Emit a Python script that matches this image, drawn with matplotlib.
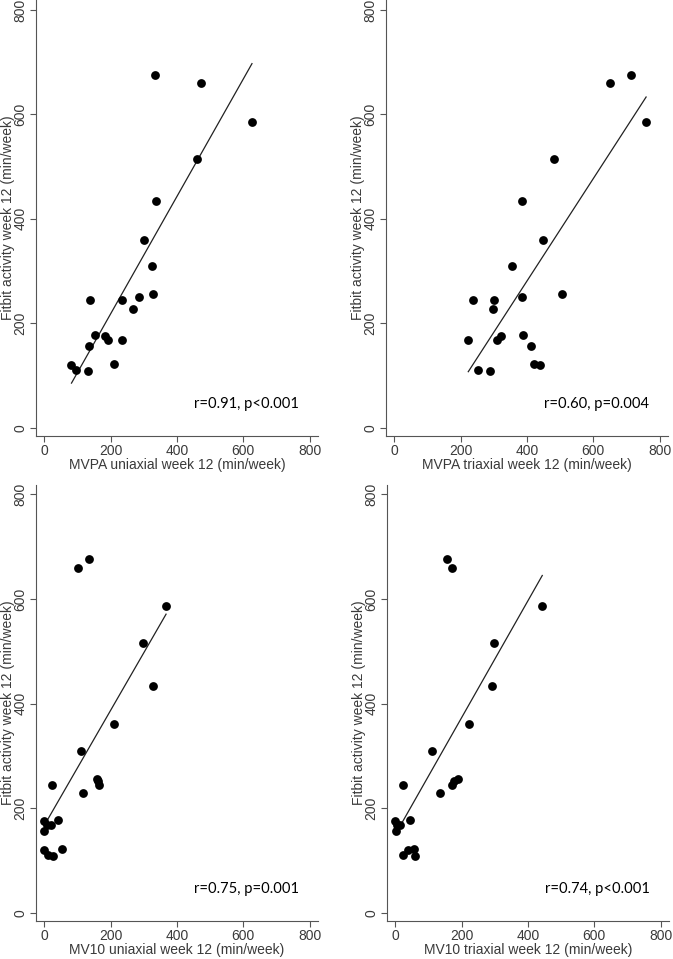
import numpy as np
import matplotlib
matplotlib.use("Agg")
import matplotlib.pyplot as plt

# Fitbit activity week 12 (min/week) -- shared y values
fitbit = [676, 660, 586, 515, 434, 360, 310, 255, 251, 245, 245, 228,
          177, 176, 168, 167, 157, 122, 120, 110, 108]

# x values for each panel, aligned with fitbit
mvpa_uni = [335, 471, 626, 461, 336, 302, 324, 327, 285, 137, 235, 267,
            154, 184, 192, 235, 134, 211, 82, 96, 132]
mvpa_tri = [714, 649, 759, 482, 384, 449, 355, 505, 384, 236, 301, 298,
            389, 323, 223, 311, 412, 421, 439, 253, 288]
mv10_uni = [134, 102, 367, 297, 327, 209, 110, 160, 162, 164, 22, 118,
            41, 0, 8, 20, 0, 53, 0, 11, 25]
mv10_tri = [156, 171, 443, 297, 292, 223, 110, 188, 176, 170, 24, 134,
            45, 0, 5, 14, 1, 56, 37, 22, 58]

x_labels = ["MVPA uniaxial week 12 (min/week)",
            "MVPA triaxial week 12 (min/week)",
            "MV10 uniaxial week 12 (min/week)",
            "MV10 triaxial week 12 (min/week)"]
y_label = "Fitbit activity week 12 (min/week)"
annotations = ["r=0.91, p<0.001", "r=0.60, p=0.004",
               "r=0.75, p=0.001", "r=0.74, p<0.001"]
ticks = [0, 200, 400, 600, 800]

W, H = 673, 959
fig = plt.figure(figsize=(W / 100, H / 100), dpi=100)

# axes boxes in pixels: left, right, top, bottom
boxes = [(36, 318, 0, 436), (386, 668, 0, 436),
         (36, 318, 485, 921), (387, 669, 485, 921)]
xs = [mvpa_uni, mvpa_tri, mv10_uni, mv10_tri]

axis_col = "#555555"
text_col = "#3a3a3a"

for i, (l, r, t, b) in enumerate(boxes):
    ax = fig.add_axes([l / W, (H - b) / H, (r - l) / W, (b - t) / H])
    x = np.array(xs[i], dtype=float)
    y = np.array(fitbit, dtype=float)
    ax.scatter(x, y, s=40, color="black", zorder=3, linewidths=0)
    k, c = np.polyfit(x, y, 1)
    xl = np.array([x.min(), x.max()])
    ax.plot(xl, k * xl + c, color="#222222", lw=0.9, zorder=2)
    ax.set_xlim(-25, 825)
    ax.set_ylim(-16, 818 if t > 0 else 819)
    ax.set_xticks(ticks)
    ax.set_yticks(ticks)
    ax.set_yticklabels([str(v) for v in ticks], rotation=90, va="center")
    for s in ["top", "right"]:
        ax.spines[s].set_visible(False)
    for s in ["left", "bottom"]:
        ax.spines[s].set_color(axis_col)
        ax.spines[s].set_linewidth(0.8)
    ax.tick_params(direction="out", length=4, width=0.8, color=axis_col,
                   labelsize=10, labelcolor=text_col, pad=2)
    for lab in ax.get_xticklabels() + ax.get_yticklabels():
        lab.set_family("Liberation Sans")
    ax.set_xlabel(x_labels[i], fontsize=10, color=text_col,
                  family="Liberation Sans", labelpad=0)
    ax.set_ylabel(y_label, fontsize=10, color=text_col,
                  family="Liberation Sans")
    ax.yaxis.set_label_coords(-21 / (r - l), 0.5)
    ax.text(450, 46, annotations[i], fontsize=10.6, family="Lato",
            color="black", ha="left", va="center")

fig.savefig("out.png", dpi=100)
